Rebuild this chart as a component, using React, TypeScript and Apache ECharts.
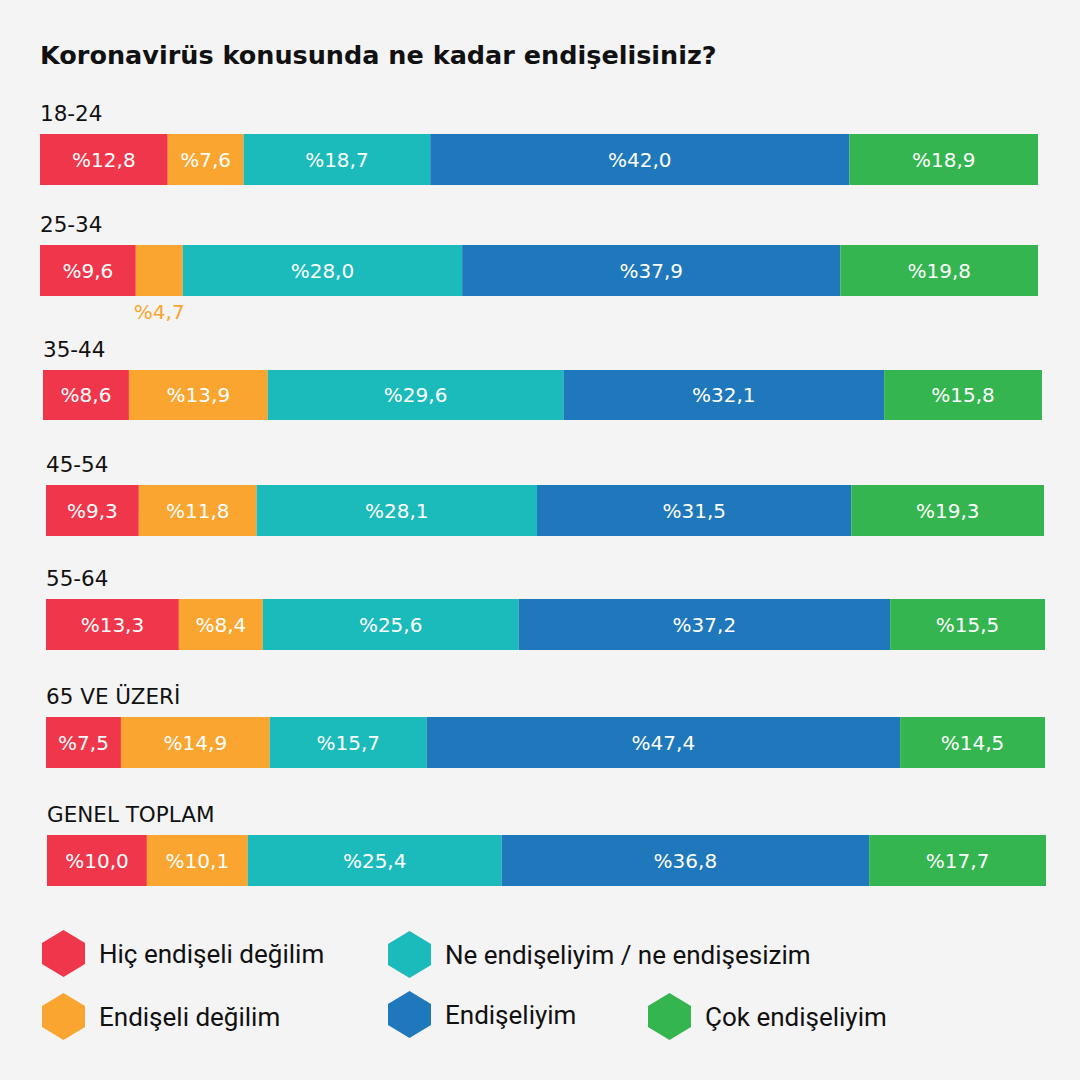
import React, { useEffect, useRef } from "react";
import * as echarts from "echarts";

const title = "Koronavirüs konusunda ne kadar endişelisiniz?";
const groups = ["18-24", "25-34", "35-44", "45-54", "55-64", "65 VE ÜZERİ", "GENEL TOPLAM"];
const responses = [
  "Hiç endişeli değilim",
  "Endişeli değilim",
  "Ne endişeliyim / ne endişesizim",
  "Endişeliyim",
  "Çok endişeliyim",
];
const hicEndiseliDegilim = [12.8, 9.6, 8.6, 9.3, 13.3, 7.5, 10.0];
const endiseliDegilim = [7.6, 4.7, 13.9, 11.8, 8.4, 14.9, 10.1];
const neNe = [18.7, 28.0, 29.6, 28.1, 25.6, 15.7, 25.4];
const endiseliyim = [42.0, 37.9, 32.1, 31.5, 37.2, 47.4, 36.8];
const cokEndiseliyim = [18.9, 19.8, 15.8, 19.3, 15.5, 14.5, 17.7];
const seriesValues = [hicEndiseliDegilim, endiseliDegilim, neNe, endiseliyim, cokEndiseliyim];

const colors = ["#F0364A", "#F9A52F", "#1BBBBB", "#1F77BC", "#35B54F"];
const gridPos = [
  { left: 40, top: 134, width: 998, height: 51 },
  { left: 40, top: 245, width: 998, height: 51 },
  { left: 43, top: 370, width: 999, height: 50 },
  { left: 46, top: 485, width: 998, height: 51 },
  { left: 46, top: 599, width: 999, height: 51 },
  { left: 46, top: 717, width: 999, height: 51 },
  { left: 47, top: 835, width: 999, height: 51 },
];
const legendPos = [
  { left: 42, top: 930 },
  { left: 42, top: 993 },
  { left: 388, top: 931 },
  { left: 388, top: 991 },
  { left: 648, top: 993 },
];

const fmt = (v: number) => "%" + v.toFixed(1).replace(".", ",");

export default function App() {
  const ref = useRef<HTMLDivElement>(null);
  useEffect(() => {
    document.body.style.margin = "0";
    const chart = echarts.init(ref.current!, null, { renderer: "svg" });
    const series: any[] = [];
    groups.forEach((g, i) => {
      responses.forEach((r, j) => {
        const v = seriesValues[j][i];
        const small = v < 6;
        series.push({
          type: "bar",
          name: r,
          stack: "row" + i,
          xAxisIndex: i,
          yAxisIndex: i,
          barCategoryGap: "0%",
          itemStyle: { color: colors[j] },
          label: {
            show: true,
            position: "inside",
            color: "#ffffff",
            fontFamily: "DejaVu Sans",
            fontSize: 20,
            formatter: (p: any) => fmt(p.value),
          },
          data: [
            small
              ? {
                  value: v,
                  label: { position: "bottom", distance: 6, color: colors[j] },
                }
              : v,
          ],
        });
      });
    });
    const option: any = {
      animation: false,
      backgroundColor: "#F4F4F4",
      title: {
        text: title,
        left: 40,
        top: 42,
        padding: 0,
        textStyle: {
          fontFamily: "DejaVu Sans",
          fontWeight: "bold",
          fontSize: 25.5,
          color: "#111111",
        },
      },
      grid: gridPos.map((p) => ({ ...p, containLabel: false })),
      xAxis: gridPos.map((_, i) => ({
        type: "value",
        gridIndex: i,
        min: 0,
        max: 100,
        show: false,
      })),
      yAxis: groups.map((g, i) => ({
        type: "category",
        gridIndex: i,
        data: [g],
        axisLine: { show: false },
        axisTick: { show: false },
        axisLabel: { show: false },
        splitLine: { show: false },
        name: g,
        nameLocation: "end",
        nameGap: 10,
        nameTextStyle: {
          align: "left",
          verticalAlign: "bottom",
          fontFamily: "DejaVu Sans",
          fontSize: 21.5,
          color: "#111111",
        },
      })),
      legend: responses.map((r, j) => ({
        data: [r],
        left: legendPos[j].left,
        top: legendPos[j].top,
        padding: 0,
        itemWidth: 43,
        itemHeight: 47,
        selectedMode: false,
        icon: "path://M21.5,0 L43,13 L43,34 L21.5,47 L0,34 L0,13 Z",
        textStyle: {
          fontFamily: "Roboto",
          fontSize: 26,
          color: "#111111",
          padding: [0, 0, 0, 9],
        },
      })),
      series,
    };
    chart.setOption(option);
    return () => chart.dispose();
  }, []);
  return <div ref={ref} style={{ width: 1080, height: 1080 }} />;
}
